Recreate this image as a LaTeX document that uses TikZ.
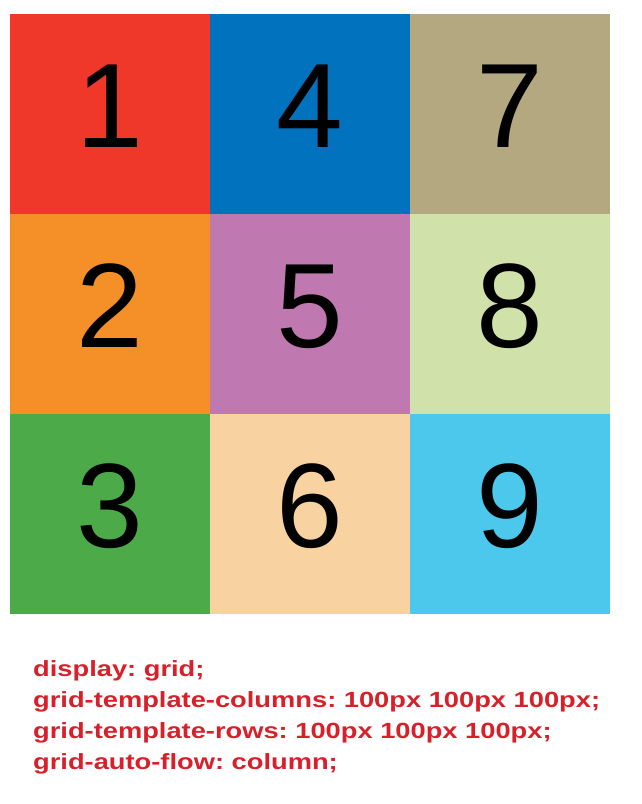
\documentclass[tikz,border=0pt]{standalone}
\usepackage{fontspec}
\setmainfont{Liberation Sans}
\newfontfamily\cssfont[FakeStretch=1.24]{Liberation Sans}
\usetikzlibrary{positioning}
\definecolor{cellred}{HTML}{EF3829}
\definecolor{cellblue}{HTML}{0072BE}
\definecolor{celltan}{HTML}{B4A880}
\definecolor{cellorange}{HTML}{F59028}
\definecolor{cellpurple}{HTML}{C078B0}
\definecolor{celllime}{HTML}{D0E2AA}
\definecolor{cellgreen}{HTML}{4CAA48}
\definecolor{cellpeach}{HTML}{F8D2A0}
\definecolor{cellcyan}{HTML}{4CC8EC}
\definecolor{csstext}{HTML}{D8202A}
\frenchspacing
\begin{document}
\begin{tikzpicture}[x=1pt, y=-1pt,
  cell/.style={minimum size=200pt, inner sep=0pt, outer sep=0pt,
               text height=86pt, text depth=20pt,
               font=\fontsize{120}{120}\selectfont},
  code/.style={anchor=base west, align=left, text=csstext, inner sep=0pt,
               font=\cssfont\fontsize{22}{31}\selectfont\bfseries}
]
  \useasboundingbox (0,0) rectangle (642,804);
  \node[cell, fill=cellred, anchor=north west] (c1) at (10,14) {1};
  \node[cell, fill=cellorange, below=0pt of c1] (c2) {2};
  \node[cell, fill=cellgreen, below=0pt of c2] (c3) {3};
  \node[cell, fill=cellblue, right=0pt of c1] (c4) {4};
  \node[cell, fill=cellpurple, below=0pt of c4] (c5) {5};
  \node[cell, fill=cellpeach, below=0pt of c5] (c6) {6};
  \node[cell, fill=celltan, right=0pt of c4] (c7) {7};
  \node[cell, fill=celllime, below=0pt of c7] (c8) {8};
  \node[cell, fill=cellcyan, below=0pt of c8] (c9) {9};

  % base anchor sits on the last line
  \node[code] (css) at (33,769) {display: grid;\\
    grid-template-columns: 100px 100px 100px;\\
    grid-template-rows: 100px 100px 100px;\\
    grid-auto-flow: column;};
\end{tikzpicture}
\end{document}
